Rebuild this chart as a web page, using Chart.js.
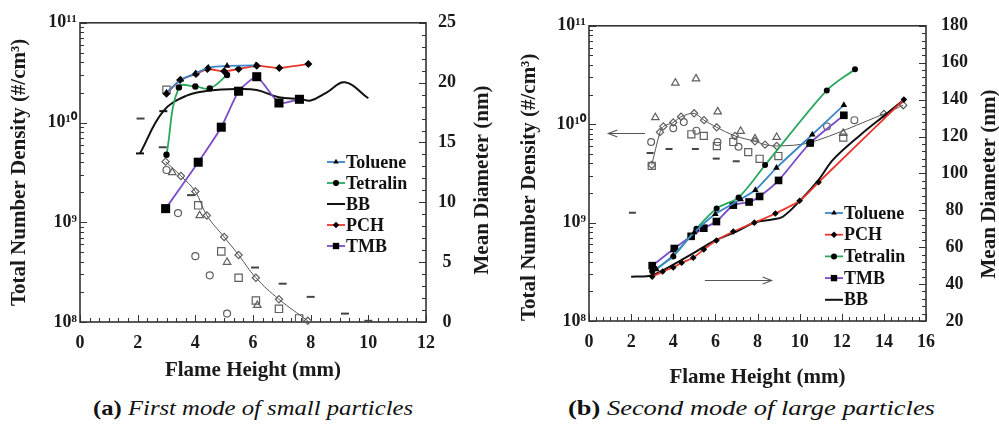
<!DOCTYPE html>
<html><head><meta charset="utf-8">
<script src="https://cdn.jsdelivr.net/npm/chart.js"></script>
<style>
html,body{margin:0;padding:0;background:#fff;}
#wrap{position:relative;width:999px;height:430px;overflow:hidden;background:#fff;}
.pane{position:absolute;top:0;height:395px;}
.cap{position:absolute;font-family:"Liberation Serif","Times New Roman",serif;font-size:21px;color:#111;white-space:nowrap;transform-origin:0 50%;line-height:24px;}
.cap b{font-weight:bold;}
.cap i{font-style:italic;}
</style></head><body>
<div id="wrap">
 <div class="pane" style="left:0;width:500px"><canvas id="chartA"></canvas></div>
 <div class="pane" style="left:500px;width:499px"><canvas id="chartB"></canvas></div>
 <div class="cap" id="capA" data-w="320" style="left:93px;top:396px"><b>(a)</b> <i>First mode of small particles</i></div>
 <div class="cap" id="capB" data-w="367" style="left:568px;top:396px"><b>(b)</b> <i>Second mode of large particles</i></div>
</div>
<script>
// ================= DATA =================
// shared tick labels
const DENSITY_TICKS = [1e8, 1e9, 1e10, 1e11];
const DENSITY_TICK_LABELS = ['10⁸', '10⁹', '10¹⁰', '10¹¹'];

// ---- Panel (a): first mode of small particles ----
// total number density (#/cm3) -> left log axis
const A_TOLUENE_X = [3.0, 3.5, 4.0, 4.45, 5.1, 6.1];
const A_TOLUENE_N = [2.0e10, 2.7e10, 3.1e10, 3.55e10, 3.7e10, 3.75e10];
const A_TETRALIN_X = [3.0, 3.43, 4.0, 4.5, 5.1];
const A_TETRALIN_N = [4.75e9, 2.25e10, 2.3e10, 2.2e10, 3.0e10];
const A_BB_X = [2.08, 2.89, 3.7, 4.5, 5.43, 6.13, 6.9, 7.63, 8.0, 8.55, 9.19, 10.0];
const A_BB_N = [4.9e9, 1.3e10, 1.86e10, 2.09e10, 2.17e10, 2.12e10, 1.79e10, 1.73e10, 1.66e10, 2.0e10, 2.53e10, 1.75e10];
const A_PCH_X = [3.0, 3.47, 4.02, 4.42, 5.0, 5.5, 6.13, 6.91, 7.92];
const A_PCH_N = [1.94e10, 2.67e10, 3.07e10, 3.44e10, 3.26e10, 3.44e10, 3.72e10, 3.52e10, 3.86e10];
const A_TMB_X = [2.97, 4.1, 4.9, 5.5, 6.13, 6.9, 7.61];
const A_TMB_N = [1.37e9, 4.0e9, 8.98e9, 2.06e10, 2.88e10, 1.57e10, 1.71e10];
// mean diameter (nm) -> right axis (open symbols)
const A_PCH_DX = [2.97, 3.5, 4.0, 4.4, 5.0, 5.5, 6.1, 6.9, 7.9];
const A_PCH_D = [13.4, 12.2, 10.9, 8.9, 7.1, 5.6, 3.7, 1.9, 0.1];
const A_TETRALIN_DX = [3.0, 3.4, 4.0, 4.5, 5.1];
const A_TETRALIN_D = [12.7, 9.1, 5.5, 3.9, 0.7];
const A_TOLUENE_DX = [3.2, 4.15, 5.1, 6.15];
const A_TOLUENE_D = [12.5, 8.9, 5.0, 1.4];
const A_TMB_DX = [3.0, 4.1, 4.9, 5.5, 6.1, 6.9, 7.6];
const A_TMB_D = [19.4, 9.75, 5.9, 3.7, 1.8, 1.1, 0.3];
const A_BB_DX = [2.1, 2.87, 3.85, 6.07, 7.03, 8.0, 9.19, 10.0];
const A_BB_D = [17.0, 14.6, 10.6, 4.55, 3.2, 2.1, 0.7, 0.1];

// ---- Panel (b): second mode of large particles ----
// mean diameter (nm) -> right axis (filled symbols)
const B_TOLUENE_X = [3.2, 4.0, 5.0, 6.0, 7.2, 7.9, 8.9, 10.6, 12.1];
const B_TOLUENE_D = [48, 55.5, 68, 78, 86, 91, 103, 121, 137];
const B_PCH_X = [3.0, 3.5, 4.0, 4.4, 4.95, 5.45, 6.05, 6.85, 7.85, 8.85, 10.0, 10.9, 14.95];
const B_PCH_D = [44, 46.8, 49, 51.6, 54.3, 58.8, 63.6, 68.5, 73.3, 78.3, 85.2, 95.2, 140];
const B_TETRALIN_X = [3.0, 4.0, 5.1, 6.06, 7.1, 8.36, 11.29, 12.63];
const B_TETRALIN_D = [47, 55, 70, 81, 87, 104.5, 145, 156.5];
const B_TMB_X = [3.0, 4.05, 4.85, 5.45, 6.05, 6.85, 7.6, 8.1, 9.0, 10.5, 12.1];
const B_TMB_D = [50, 59.3, 65.9, 70.3, 73.9, 82.8, 84.5, 87.5, 96.2, 116.5, 131.5];
const B_BB_X = [2.0, 3.0, 4.3, 5.0, 5.9, 7.0, 7.9, 8.7, 9.2, 10.0, 10.9, 11.6, 12.9, 14.05, 14.96];
const B_BB_D = [44, 44.8, 52.5, 57, 63.2, 68.5, 73.5, 75, 76.5, 85, 96.5, 107.6, 121, 131.6, 140];
// total number density -> left log axis (open symbols)
const B_PCH_NX = [2.98, 3.37, 3.53, 4.0, 4.37, 4.99, 5.46, 6.06, 6.93, 7.88, 8.36, 8.91, 10.5, 14.0, 14.92];
const B_PCH_N = [3.86e9, 8.3e9, 9.5e9, 1.04e10, 1.19e10, 1.29e10, 1.1e10, 9.3e9, 7.6e9, 6.7e9, 6.2e9, 6.0e9, 6.5e9, 1.27e10, 1.56e10];
const B_TETRALIN_NX = [2.95, 4.0, 4.5, 5.1, 6.1, 7.1, 11.3, 12.6];
const B_TETRALIN_N = [6.6e9, 9.1e9, 1.05e10, 8.6e9, 6.6e9, 5.9e9, 9.5e9, 1.1e10];
const B_TOLUENE_NX = [3.15, 4.1, 5.08, 6.11, 7.2, 7.88, 8.91, 12.07];
const B_TOLUENE_N = [1.17e10, 2.63e10, 2.9e10, 1.34e10, 8.5e9, 7.1e9, 7.36e9, 8.1e9];
const B_TMB_NX = [2.98, 4.86, 5.45, 6.07, 6.85, 7.56, 8.1, 8.99, 12.07];
const B_TMB_N = [3.78e9, 7.9e9, 7.6e9, 6.0e9, 6.6e9, 5.2e9, 4.45e9, 4.75e9, 7.3e9];
const B_BB_NX = [2.06, 2.9, 3.8, 5.05, 6.04, 6.99];
const B_BB_N = [1.26e9, 5.1e9, 5.6e9, 5.6e9, 4.47e9, 4.2e9];
// axis-indicator arrows (data coordinates)
const B_ARROW_LEFT_X = [2.66, 0.92];
const B_ARROW_LEFT_N = 8.1e9;
const B_ARROW_RIGHT_X = [5.5, 8.67];
const B_ARROW_RIGHT_D = 42;

// ================= STYLE =================
const SERIF = '"Liberation Serif","Times New Roman",serif';
const INK = '#1a1a1a';
const C_BLUE = '#3a86c8', C_GREEN = '#2aa85e', C_RED = '#e8362c', C_PURPLE = '#7b4bc8', C_GRAY = '#5f5f5f';
Chart.defaults.font.family = SERIF;
const tickFont = {family: SERIF, size: 18, weight: 'bold'};
const titleFont = {family: SERIF, size: 21, weight: 'bold'};

function P(xs, ys) { return xs.map((x, i) => ({x: x, y: ys[i]})); }

function lineDS(label, data, color, style, r, axis, extra) {
  return Object.assign({
    label, data, yAxisID: axis, borderColor: color, backgroundColor: '#000',
    borderWidth: 1.8, pointStyle: style, pointRadius: r, pointHoverRadius: r,
    pointBackgroundColor: '#000', pointBorderColor: '#000', pointBorderWidth: 0,
    tension: 0.2, showLine: true, fill: false, clip: false
  }, extra || {});
}
function openDS(label, data, style, r, axis, extra) {
  return Object.assign({
    label, data, yAxisID: axis, showLine: false, borderColor: C_GRAY, borderWidth: 1,
    backgroundColor: 'rgba(0,0,0,0)', pointStyle: style, pointRadius: r, pointHoverRadius: r,
    pointBorderWidth: 1.2, pointBorderColor: C_GRAY, pointBackgroundColor: 'rgba(0,0,0,0)',
    fill: false, clip: false
  }, extra || {});
}
function logTicksLabels(v) {
  const i = DENSITY_TICKS.findIndex(t => Math.abs(t - v) / t < 1e-6);
  return i >= 0 ? DENSITY_TICK_LABELS[i] : '';
}

// ================= DECOR PLUGIN (frame, inward ticks, legend, arrows, right titles) =================
const DECOR = {};
function mark(ctx, style, x, y, r) {
  ctx.beginPath();
  if (style === 'circle') ctx.arc(x, y, r, 0, Math.PI * 2);
  else if (style === 'triangle') { ctx.moveTo(x, y - r); ctx.lineTo(x + r * 0.866, y + r * 0.5); ctx.lineTo(x - r * 0.866, y + r * 0.5); ctx.closePath(); }
  else if (style === 'rect') { const s = r * Math.SQRT1_2; ctx.rect(x - s, y - s, 2 * s, 2 * s); }
  else if (style === 'rectRot') { ctx.moveTo(x - r, y); ctx.lineTo(x, y - r); ctx.lineTo(x + r, y); ctx.lineTo(x, y + r); ctx.closePath(); }
  ctx.fill();
}
const decorPlugin = {
  id: 'decor',
  beforeDatasetsDraw(chart) {
    const o = DECOR[chart.canvas.id]; if (!o) return;
    const ctx = chart.ctx, a = chart.chartArea;
    ctx.save();
    ctx.strokeStyle = '#333'; ctx.lineWidth = 1;
    o.ticks.forEach(t => {
      const s = chart.scales[t.id];
      const list = [];
      if (t.log) {
        for (let e = t.fromExp; e < t.toExp; e++) for (let k = 1; k < 10; k++) list.push({v: k * Math.pow(10, e), major: k === 1});
        list.push({v: Math.pow(10, t.toExp), major: true});
      } else {
        const n = Math.round((s.max - s.min) / t.minor);
        for (let i = 0; i <= n; i++) {
          const v = s.min + i * t.minor, r = (v - s.min) / t.major;
          list.push({v, major: Math.abs(r - Math.round(r)) < 1e-6});
        }
      }
      list.forEach(({v, major}) => {
        const p = Math.round(s.getPixelForValue(v)) + 0.5;
        const len = major ? 7 : 4;
        ctx.beginPath();
        if (t.side === 'bottom') { ctx.moveTo(p, a.bottom); ctx.lineTo(p, a.bottom - len); }
        else if (t.side === 'left') { ctx.moveTo(a.left, p); ctx.lineTo(a.left + len, p); }
        else { ctx.moveTo(a.right, p); ctx.lineTo(a.right - len, p); }
        ctx.stroke();
      });
    });
    ctx.lineWidth = 1.6; ctx.strokeStyle = '#333';
    ctx.strokeRect(a.left, a.top, a.right - a.left, a.bottom - a.top);
    ctx.restore();
  },
  afterDraw(chart) {
    const o = DECOR[chart.canvas.id]; if (!o) return;
    const ctx = chart.ctx;
    ctx.save();
    // legend
    const L = o.legend;
    ctx.font = 'bold 18px ' + SERIF; ctx.textBaseline = 'middle'; ctx.textAlign = 'left';
    L.items.forEach((idx, i) => {
      const ds = chart.data.datasets[idx];
      const y = L.y + i * L.dy;
      ctx.strokeStyle = ds.borderColor; ctx.lineWidth = ds.borderWidth;
      ctx.beginPath(); ctx.moveTo(L.x, y); ctx.lineTo(L.x + L.len, y); ctx.stroke();
      if (L.markers[i]) { ctx.fillStyle = '#000'; mark(ctx, ds.pointStyle, L.x + L.len / 2, y, L.markers[i]); }
      ctx.fillStyle = '#111';
      ctx.fillText(ds.label, L.x + L.len + 1, y + 1);
    });
    // arrows
    (o.arrows || []).forEach(ar => {
      const sx = chart.scales.x, sy = chart.scales[ar.axis];
      const x1 = sx.getPixelForValue(ar.x[0]), x2 = sx.getPixelForValue(ar.x[1]);
      const y = Math.round(sy.getPixelForValue(ar.y)) + 0.5;
      const dir = Math.sign(x2 - x1);
      ctx.strokeStyle = '#555'; ctx.lineWidth = 1.1;
      ctx.beginPath(); ctx.moveTo(x1, y); ctx.lineTo(x2, y);
      ctx.moveTo(x2 - dir * 9, y - 3.5); ctx.lineTo(x2, y); ctx.lineTo(x2 - dir * 9, y + 3.5);
      ctx.stroke();
    });
    // right axis title (reads bottom-to-top)
    const T = o.rightTitle;
    ctx.translate(T.x, T.y); ctx.rotate(-Math.PI / 2);
    ctx.font = 'bold 21px ' + SERIF; ctx.fillStyle = INK; ctx.textAlign = 'center'; ctx.textBaseline = 'middle';
    ctx.fillText(T.text, 0, 0);
    ctx.restore();
  }
};
Chart.register(decorPlugin);

function baseOptions(padTop) {
  return {
    responsive: true, maintainAspectRatio: false, animation: false, devicePixelRatio: 1,
    layout: {padding: {top: padTop, left: 0, right: 0, bottom: 0}},
    plugins: {legend: {display: false}, tooltip: {enabled: false}},
    elements: {line: {borderJoinStyle: 'round'}}
  };
}
const noGrid = {display: false, drawTicks: false, drawOnChartArea: false};

// ================= CHART (a) =================
DECOR.chartA = {
  ticks: [
    {id: 'x', side: 'bottom', major: 2, minor: 1 / 3},
    {id: 'y', side: 'left', log: true, fromExp: 8, toExp: 11},
    {id: 'y2', side: 'right', major: 5, minor: 1}
  ],
  legend: {x: 327, y: 162, dy: 21, len: 18, items: [0, 1, 4, 2, 3], markers: [3.2, 3, 0, 3.2, 4.5]},
  rightTitle: {text: 'Mean Diameter (nm)', x: 483, y: 180}
};
const optA = baseOptions(22);
optA.scales = {
  x: {type: 'linear', position: 'bottom', min: 0, max: 12,
      ticks: {stepSize: 2, font: tickFont, color: INK, padding: 11, maxRotation: 0},
      grid: noGrid, border: {display: false},
      title: {display: true, text: 'Flame Height (mm)', font: titleFont, color: INK, padding: {top: 12, bottom: 12}},
      afterFit: s => { s.height = 73; }},
  y: {type: 'logarithmic', position: 'left', min: 1e8, max: 1e11,
      afterBuildTicks: s => { s.ticks = DENSITY_TICKS.map(v => ({value: v, major: true})); },
      ticks: {callback: v => logTicksLabels(v), font: tickFont, color: INK, padding: 3, autoSkip: false},
      grid: noGrid, border: {display: false},
      title: {display: true, text: 'Total Number Density (#/cm³)', font: titleFont, color: INK, padding: {top: 7, bottom: 0}},
      afterFit: s => { s.width = 80; }},
  y2: {type: 'linear', position: 'right', min: 0, max: 25,
      ticks: {stepSize: 5, font: tickFont, color: INK, padding: 12, crossAlign: 'center'},
      grid: noGrid, border: {display: false},
      afterFit: s => { s.width = 74; }}
};
new Chart(document.getElementById('chartA'), {
  type: 'line',
  data: {datasets: [
    lineDS('Toluene', P(A_TOLUENE_X, A_TOLUENE_N), C_BLUE, 'triangle', 3.8, 'y', {tension: 0.1}),
    lineDS('Tetralin', P(A_TETRALIN_X, A_TETRALIN_N), C_GREEN, 'circle', 3.2, 'y', {tension: 0.4}),
    lineDS('PCH', P(A_PCH_X, A_PCH_N), C_RED, 'rectRot', 4, 'y', {tension: 0.15}),
    lineDS('TMB', P(A_TMB_X, A_TMB_N), C_PURPLE, 'rect', 6.4, 'y', {tension: 0.15}),
    lineDS('BB', P(A_BB_X, A_BB_N), '#111', 'line', 0, 'y', {tension: 0.4, borderWidth: 2,
      pointRadius: c => (c.dataIndex < 2 ? 4 : 0), pointBorderWidth: 2, pointBorderColor: '#111'}),
    openDS('PCH diameter', P(A_PCH_DX, A_PCH_D), 'rectRot', 3.6, 'y2', {showLine: true, tension: 0.4, borderColor: '#555', borderWidth: 1}),
    openDS('Tetralin diameter', P(A_TETRALIN_DX, A_TETRALIN_D), 'circle', 3.5, 'y2'),
    openDS('TMB diameter', P(A_TMB_DX, A_TMB_D), 'rect', 5.2, 'y2'),
    openDS('Toluene diameter', P(A_TOLUENE_DX, A_TOLUENE_D), 'triangle', 4.3, 'y2'),
    openDS('BB diameter', P(A_BB_DX, A_BB_D), 'line', 4, 'y2', {pointBorderWidth: 2, pointBorderColor: '#444'})
  ]},
  options: optA
});

// ================= CHART (b) =================
DECOR.chartB = {
  ticks: [
    {id: 'x', side: 'bottom', major: 2, minor: 1 / 3},
    {id: 'y', side: 'left', log: true, fromExp: 8, toExp: 11},
    {id: 'y2', side: 'right', major: 20, minor: 4}
  ],
  legend: {x: 325, y: 213, dy: 21.7, len: 18, items: [0, 1, 2, 3, 4], markers: [3.2, 3.2, 3, 4.5, 0]},
  arrows: [
    {x: B_ARROW_LEFT_X, y: B_ARROW_LEFT_N, axis: 'y'},
    {x: B_ARROW_RIGHT_X, y: B_ARROW_RIGHT_D, axis: 'y2'}
  ],
  rightTitle: {text: 'Mean Diameter (nm)', x: 490, y: 184}
};
const optB = baseOptions(21);
optB.scales = {
  x: {type: 'linear', position: 'bottom', min: 0, max: 16,
      ticks: {stepSize: 2, font: tickFont, color: INK, padding: 11, maxRotation: 0},
      grid: noGrid, border: {display: false},
      title: {display: true, text: 'Flame Height (mm)', font: titleFont, color: INK, padding: {top: 5, bottom: 5}},
      afterFit: s => { s.height = 74; }},
  y: {type: 'logarithmic', position: 'left', min: 1e8, max: 1e11,
      afterBuildTicks: s => { s.ticks = DENSITY_TICKS.map(v => ({value: v, major: true})); },
      ticks: {callback: v => logTicksLabels(v), font: tickFont, color: INK, padding: 3, autoSkip: false},
      grid: noGrid, border: {display: false},
      title: {display: true, text: 'Total Number Density (#/cm³)', font: titleFont, color: INK, align: 'start', padding: {top: 17, bottom: 0}},
      afterFit: s => { s.width = 89; }},
  y2: {type: 'linear', position: 'right', min: 20, max: 180,
      ticks: {stepSize: 20, font: tickFont, color: INK, padding: 15, crossAlign: 'center'},
      grid: noGrid, border: {display: false},
      afterFit: s => { s.width = 73; }}
};
new Chart(document.getElementById('chartB'), {
  type: 'line',
  data: {datasets: [
    lineDS('Toluene', P(B_TOLUENE_X, B_TOLUENE_D), C_BLUE, 'triangle', 3.8, 'y2', {tension: 0.2}),
    lineDS('PCH', P(B_PCH_X, B_PCH_D), C_RED, 'rectRot', 3.3, 'y2', {tension: 0.2}),
    lineDS('Tetralin', P(B_TETRALIN_X, B_TETRALIN_D), C_GREEN, 'circle', 3, 'y2', {tension: 0.3}),
    lineDS('TMB', P(B_TMB_X, B_TMB_D), C_PURPLE, 'rect', 5.4, 'y2', {tension: 0.2}),
    lineDS('BB', P(B_BB_X, B_BB_D), '#111', 'circle', 0, 'y2', {tension: 0.35, borderWidth: 2}),
    openDS('PCH density', P(B_PCH_NX, B_PCH_N), 'rectRot', 3.6, 'y', {showLine: true, tension: 0.3, borderColor: '#555', borderWidth: 1}),
    openDS('Tetralin density', P(B_TETRALIN_NX, B_TETRALIN_N), 'circle', 3.4, 'y'),
    openDS('TMB density', P(B_TMB_NX, B_TMB_N), 'rect', 5, 'y'),
    openDS('Toluene density', P(B_TOLUENE_NX, B_TOLUENE_N), 'triangle', 4.3, 'y'),
    openDS('BB density', P(B_BB_NX, B_BB_N), 'line', 3.5, 'y', {pointBorderWidth: 2, pointBorderColor: '#444'})
  ]},
  options: optB
});

// captions: stretch to the reference width
document.querySelectorAll('.cap').forEach(el => {
  const w = el.getBoundingClientRect().width;
  el.style.transform = 'scaleX(' + (parseFloat(el.dataset.w) / w).toFixed(3) + ')';
});
</script>
</body></html>
